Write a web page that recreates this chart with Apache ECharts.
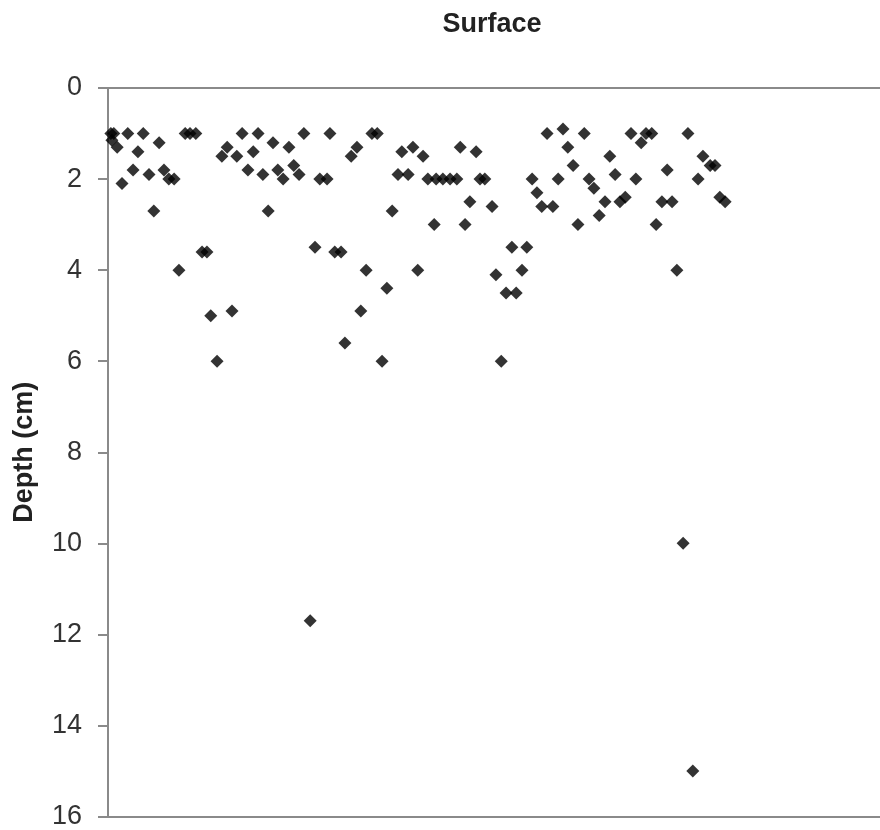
<!DOCTYPE html>
<html>
<head>
<meta charset="utf-8">
<script src="https://cdn.jsdelivr.net/npm/echarts@6/dist/echarts.min.js"></script>
<style>
  html, body { margin: 0; padding: 0; background: #fff; }
  #main { width: 880px; height: 830px; }
</style>
</head>
<body>
<div id="main"></div>
<script>
// sample position along the transect
var samples = [
  0.6, 1.2, 0.8, 1.9, 2.9, 4.1, 5.2, 6.2, 7.3, 8.5,
  9.5, 10.6, 11.6, 12.6, 13.7, 14.7, 16.0, 17.0, 18.2, 19.5,
  20.5, 21.3, 22.6, 23.6, 24.7, 25.7, 26.7, 27.8, 29.0, 30.1,
  31.1, 32.1, 33.2, 34.2, 35.2, 36.3, 37.5, 38.5, 39.6, 40.6,
  41.9, 42.9, 43.9, 45.4, 46.0, 47.0, 48.3, 49.1, 50.4, 51.6,
  52.4, 53.5, 54.7, 55.8, 56.8, 57.8, 58.9, 60.1, 60.9, 62.2,
  63.2, 64.2, 65.3, 66.3, 67.6, 68.0, 69.4, 70.9, 72.3, 73.0,
  74.0, 75.0, 76.3, 77.1, 78.1, 79.6, 80.4, 81.5, 82.5, 83.7,
  84.6, 85.8, 86.8, 87.9, 88.9, 89.9, 91.0, 92.2, 93.3, 94.3,
  95.3, 96.4, 97.4, 98.7, 99.7, 100.7, 101.8, 103.0, 104.0, 105.1,
  106.1, 107.2, 108.4, 109.4, 110.5, 111.5, 112.7, 113.6, 114.8, 115.9,
  116.9, 117.9, 119.2, 120.2, 121.2, 122.3, 123.3, 124.8, 125.8, 126.8,
  127.9
];
// depth in cm
var depths = [
  1.0, 1.0, 1.15, 1.3, 2.1, 1.0, 1.8, 1.4, 1.0, 1.9,
  2.7, 1.2, 1.8, 2.0, 2.0, 4.0, 1.0, 1.0, 1.0, 3.6,
  3.6, 5.0, 6.0, 1.5, 1.3, 4.9, 1.5, 1.0, 1.8, 1.4,
  1.0, 1.9, 2.7, 1.2, 1.8, 2.0, 1.3, 1.7, 1.9, 1.0,
  11.7, 3.5, 2.0, 2.0, 1.0, 3.6, 3.6, 5.6, 1.5, 1.3,
  4.9, 4.0, 1.0, 1.0, 6.0, 4.4, 2.7, 1.9, 1.4, 1.9,
  1.3, 4.0, 1.5, 2.0, 3.0, 2.0, 2.0, 2.0, 2.0, 1.3,
  3.0, 2.5, 1.4, 2.0, 2.0, 2.6, 4.1, 6.0, 4.5, 3.5,
  4.5, 4.0, 3.5, 2.0, 2.3, 2.6, 1.0, 2.6, 2.0, 0.9,
  1.3, 1.7, 3.0, 1.0, 2.0, 2.2, 2.8, 2.5, 1.5, 1.9,
  2.5, 2.4, 1.0, 2.0, 1.2, 1.0, 1.0, 3.0, 2.5, 1.8,
  2.5, 4.0, 10.0, 1.0, 15.0, 2.0, 1.5, 1.7, 1.7, 2.4,
  2.5
];
var depthTicks = [0, 2, 4, 6, 8, 10, 12, 14, 16];

var points = samples.map(function (s, i) { return [s, depths[i]]; });

var chart = echarts.init(document.getElementById('main'));
var axisGray = '#8a8a8a';
var font = 'Liberation Sans, Arial, sans-serif';

var option = {
  backgroundColor: '#fff',
  animation: false,
  title: {
    text: 'Surface',
    left: 487,
    top: 6,
    textAlign: 'center',
    textStyle: { fontFamily: font, fontSize: 27, fontWeight: 'bold', color: '#222' }
  },
  grid: { left: 108, right: 0, top: 88, bottom: 5 },
  xAxis: [
    {
      type: 'value', min: 0, max: 160, position: 'bottom',
      axisLine: { show: true, onZero: false, lineStyle: { color: axisGray, width: 2 } },
      axisTick: { show: false }, axisLabel: { show: false }, splitLine: { show: false }
    },
    {
      type: 'value', min: 0, max: 160, position: 'top',
      axisLine: { show: true, onZero: false, lineStyle: { color: axisGray, width: 2 } },
      axisTick: { show: false }, axisLabel: { show: false }, splitLine: { show: false }
    }
  ],
  yAxis: {
    type: 'value',
    inverse: true,
    min: depthTicks[0],
    max: depthTicks[depthTicks.length - 1],
    interval: 2,
    name: 'Depth (cm)',
    nameLocation: 'middle',
    nameGap: 70,
    nameTextStyle: { fontFamily: font, fontSize: 27, fontWeight: 'bold', color: '#222' },
    axisLine: { show: true, lineStyle: { color: axisGray, width: 2 } },
    axisTick: { show: true, length: 10, lineStyle: { color: axisGray, width: 2 } },
    axisLabel: { margin: 26, fontFamily: font, fontSize: 27, color: '#333' },
    splitLine: { show: false }
  },
  series: [
    {
      type: 'scatter',
      data: points,
      symbol: 'diamond',
      symbolSize: 13,
      itemStyle: { color: '#000' }
    }
  ]
};

chart.setOption(option);
</script>
</body>
</html>
